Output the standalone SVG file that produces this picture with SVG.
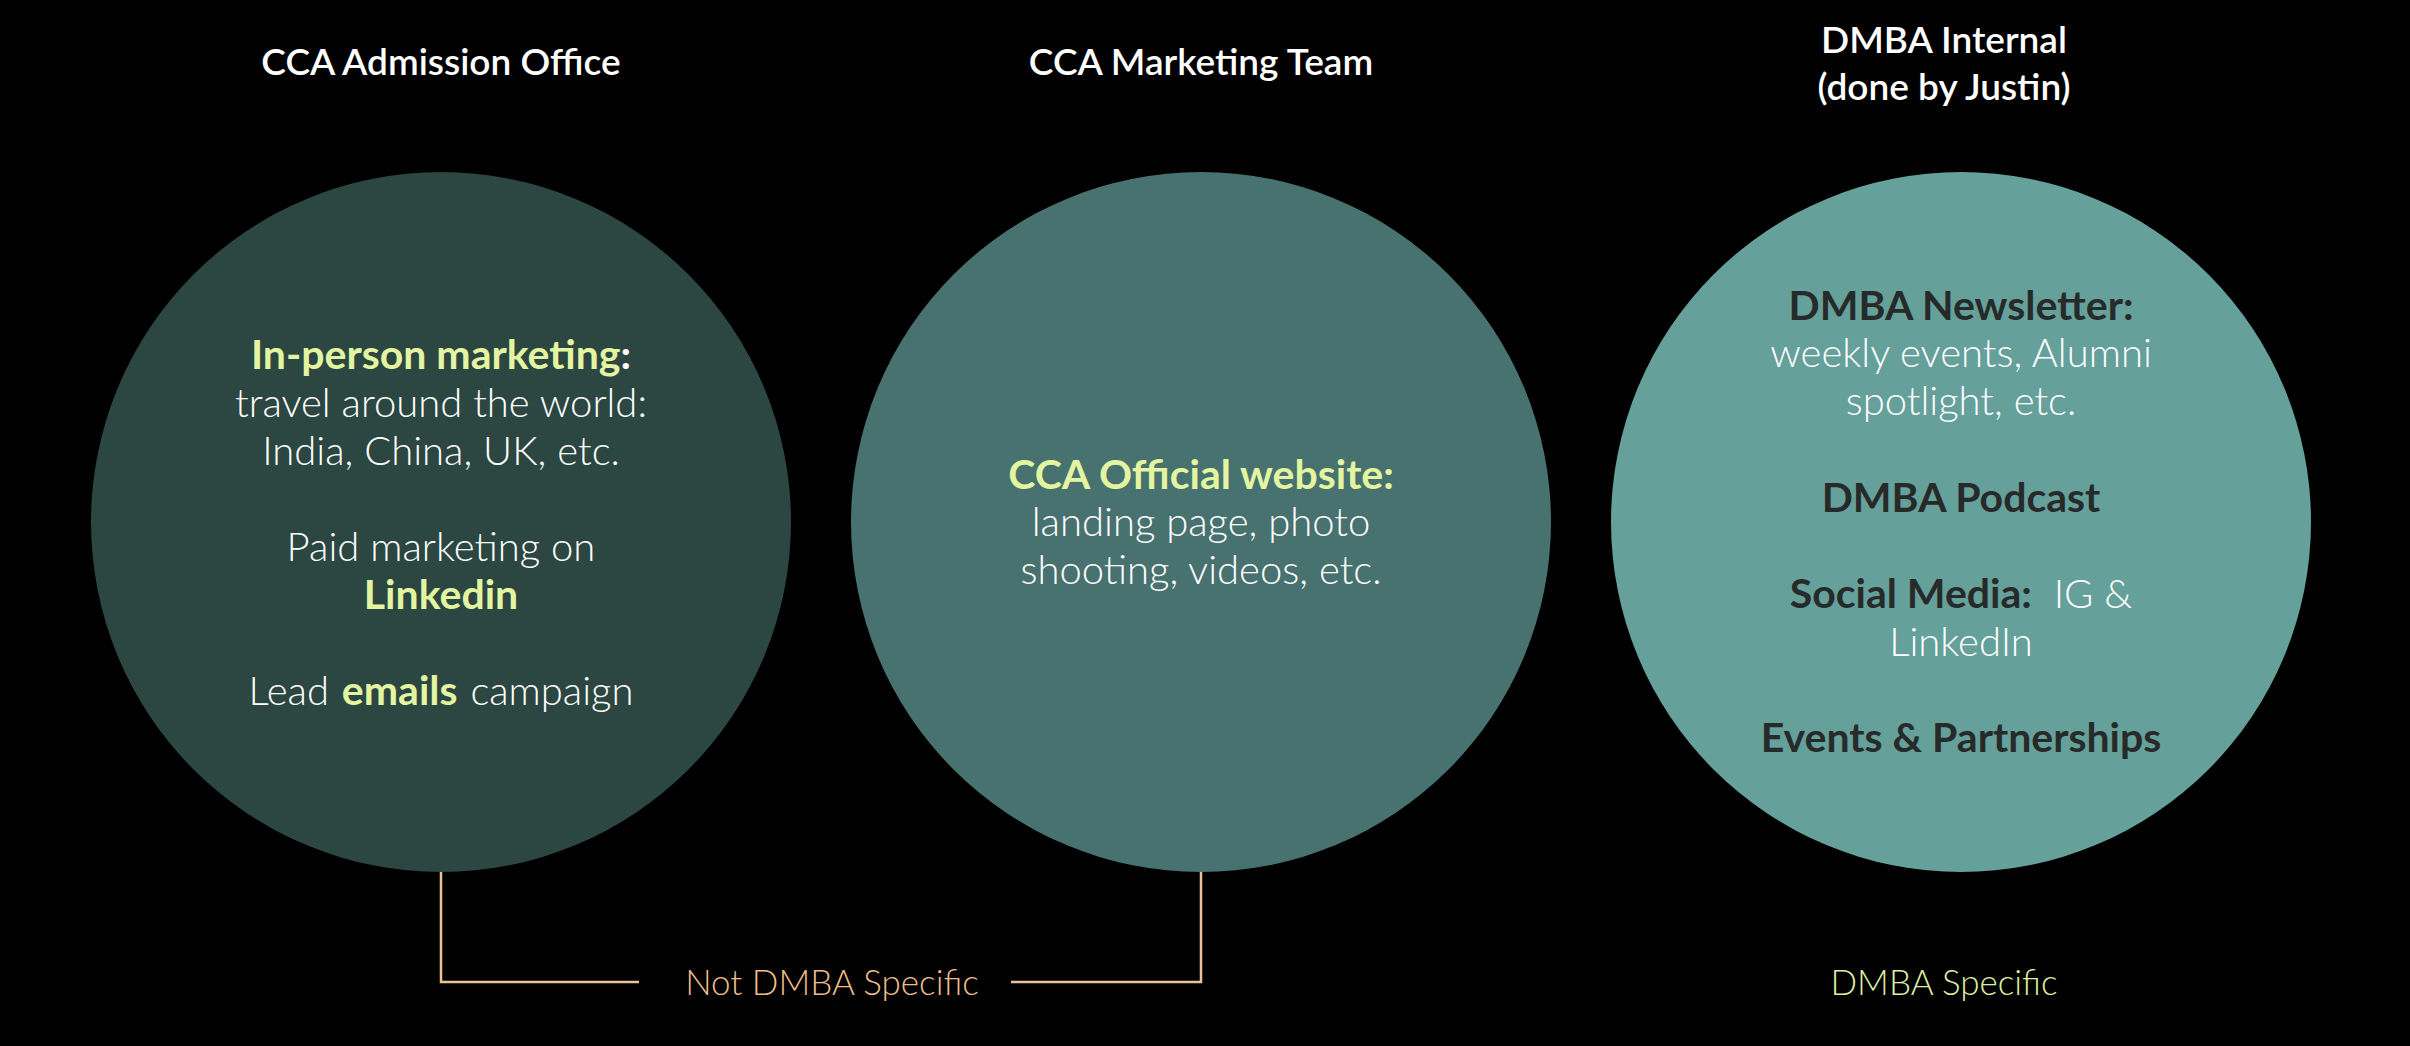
<svg xmlns="http://www.w3.org/2000/svg" width="2410" height="1046" viewBox="0 0 2410 1046">
  <style>
    text { font-family: Lato, "Noto Sans", "Liberation Sans", sans-serif; text-anchor: middle; }
    .hdr { font-size: 37px; font-weight: 600; fill: #ffffff; }
    .lt { font-size: 40px; font-weight: 300; fill: #ffffff; }
    .bd { font-weight: 700; font-size: 41px; }
    .hl { fill: #E3F5A1; }
    .dk { fill: #262B2A; }
    .wh { fill: #ffffff; }
    .foot { font-size: 35px; font-weight: 300; }
    .conn { fill: none; stroke: #EBC397; stroke-width: 2.5; }
  </style>
  <rect x="0" y="0" width="2410" height="1046" fill="#000000"/>

  <g id="header-admission">
    <text class="hdr" x="441" y="75">CCA Admission Office</text>
  </g>
  <g id="header-marketing">
    <text class="hdr" x="1201" y="75">CCA Marketing Team</text>
  </g>
  <g id="header-dmba">
    <text class="hdr" x="1944" y="53">DMBA Internal</text>
    <text class="hdr" x="1944" y="100">(done by Justin)</text>
  </g>

  <g id="node-admission">
    <circle cx="441" cy="522" r="350" fill="#2C4642"/>
    <text class="lt" x="441" y="369"><tspan class="bd hl">In-person marketing</tspan><tspan class="bd wh">:</tspan></text>
    <text class="lt" x="441" y="417">travel around the world:</text>
    <text class="lt" x="441" y="465">India, China, UK, etc.</text>
    <text class="lt" x="441" y="561">Paid marketing on</text>
    <text class="lt bd hl" x="441" y="609">Linkedin</text>
    <text class="lt" x="441" y="705" word-spacing="2">Lead <tspan class="bd hl">emails</tspan> campaign</text>
  </g>

  <g id="node-marketing">
    <circle cx="1201" cy="522" r="350" fill="#48726F"/>
    <text class="lt bd hl" x="1201" y="489">CCA Official website:</text>
    <text class="lt" x="1201" y="536">landing page, photo</text>
    <text class="lt" x="1201" y="584">shooting, videos, etc.</text>
  </g>

  <g id="node-dmba">
    <circle cx="1961" cy="522" r="350" fill="#65A09B"/>
    <text class="lt bd dk" x="1961" y="320">DMBA Newsletter:</text>
    <text class="lt" x="1961" y="367">weekly events, Alumni</text>
    <text class="lt" x="1961" y="415">spotlight, etc.</text>
    <text class="lt bd dk" x="1961" y="512">DMBA Podcast</text>
    <text class="lt" x="1961" y="608" xml:space="preserve"><tspan class="bd dk">Social Media:</tspan>  IG &amp;</text>
    <text class="lt" x="1961" y="656">LinkedIn</text>
    <text class="lt bd dk" x="1961" y="752">Events &amp; Partnerships</text>
  </g>

  <g id="connectors">
    <path class="conn" d="M441,872 V982 H639"/>
    <path class="conn" d="M1201,872 V982 H1011"/>
  </g>

  <g id="label-not-dmba">
    <text class="foot" x="832" y="995" fill="#EDBE8C">Not DMBA Specific</text>
  </g>
  <g id="label-dmba">
    <text class="foot" x="1944" y="995" fill="#DCF0A0">DMBA Specific</text>
  </g>
</svg>
